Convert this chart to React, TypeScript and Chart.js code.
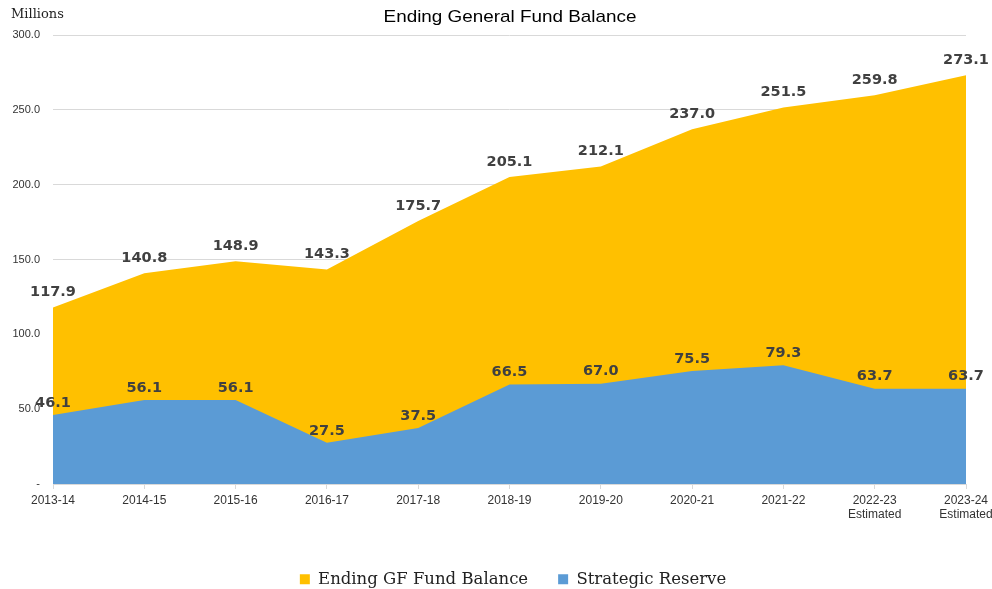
import React, { useEffect, useRef } from "react";
import { Chart, registerables } from "chart.js";

Chart.register(...registerables);

const categories: (string | string[])[] = [
  "2013-14", "2014-15", "2015-16", "2016-17", "2017-18", "2018-19",
  "2019-20", "2020-21", "2021-22", ["2022-23", "Estimated"], ["2023-24", "Estimated"],
];
const endingBalance = [117.9, 140.8, 148.9, 143.3, 175.7, 205.1, 212.1, 237.0, 251.5, 259.8, 273.1];
const strategicReserve = [46.1, 56.1, 56.1, 27.5, 37.5, 66.5, 67.0, 75.5, 79.3, 63.7, 63.7];
const yTicks = [0, 50, 100, 150, 200, 250, 300];

const TITLE = "Ending General Fund Balance";
const UNIT = "Millions";

const decorPlugin = {
  id: "decor",
  afterInit(chart: any) {
    const l = chart.legend;
    if (l) {
      const orig = l.fit;
      l.fit = function () {
        orig.call(this);
        this.height = 48;
      };
    }
  },
  afterLayout(chart: any) {
    const l = chart.legend;
    if (l) {
      l.left += 30;
      l.right += 30;
    }
  },
  afterDraw(chart: any) {
    const ctx = chart.ctx;
    ctx.save();
    ctx.fillStyle = "#000";
    ctx.font = "17px 'Liberation Sans', Arial, sans-serif";
    ctx.textAlign = "center";
    ctx.textBaseline = "middle";
    ctx.translate(510, 17);
    ctx.scale(1.11, 1);
    ctx.fillText(TITLE, 0, 0);
    ctx.restore();
    ctx.save();
    ctx.font = "13px 'DejaVu Serif', serif";
    ctx.textAlign = "left";
    ctx.textBaseline = "middle";
    ctx.fillStyle = "#222";
    ctx.fillText(UNIT, 11, 15);
    ctx.restore();
  },
  afterDatasetsDraw(chart: any) {
    const ctx = chart.ctx;
    ctx.save();
    ctx.font = "bold 14.5px 'DejaVu Sans', Arial, sans-serif";
    ctx.fillStyle = "#404040";
    ctx.textAlign = "center";
    ctx.textBaseline = "middle";
    chart.data.datasets.forEach((ds: any, di: number) => {
      const meta = chart.getDatasetMeta(di);
      meta.data.forEach((pt: any, i: number) => {
        const v = ds.data[i];
        ctx.fillText(v.toFixed(1), pt.x, pt.y - (di === 0 ? 15 : 12));
      });
    });
    ctx.restore();
  },
};

export default function App() {
  const ref = useRef<HTMLCanvasElement>(null);
  useEffect(() => {
    document.body.style.margin = "0";
    const chart = new Chart(ref.current!, {
      type: "line",
      data: {
        labels: categories,
        datasets: [
          {
            label: "Ending GF Fund Balance",
            data: endingBalance,
            backgroundColor: "#FFC000",
            borderColor: "#FFC000",
            borderWidth: 0,
            pointRadius: 0,
            fill: "origin",
            order: 1,
          },
          {
            label: "Strategic Reserve",
            data: strategicReserve,
            backgroundColor: "#5B9BD5",
            borderColor: "#5B9BD5",
            borderWidth: 0,
            pointRadius: 0,
            fill: "origin",
            order: 0,
          },
        ],
      },
      options: {
        animation: false,
        responsive: false,
        layout: { padding: { top: 35, right: 26, left: 0, bottom: 0 } },
        scales: {
          x: {
            offset: false,
            grid: { display: true, drawOnChartArea: false, drawTicks: true, tickLength: 5, color: "#d9d9d9" },
            border: { color: "#d9d9d9" },
            ticks: {
              color: "#333",
              font: { family: "'Liberation Sans', Arial, sans-serif", size: 12 },
              padding: 4,
              maxRotation: 0,
              autoSkip: false,
            },
            afterFit: (s: any) => {
              s.height = 57;
              s.paddingRight = 0;
              s.paddingLeft = 0;
            },
          },
          y: {
            min: 0,
            max: 300,
            afterBuildTicks: (s: any) => { s.ticks = yTicks.map((v) => ({ value: v })); },
            grid: { color: "#d9d9d9", drawTicks: false },
            border: { display: false },
            ticks: {
              color: "#333",
              font: { family: "'Liberation Sans', Arial, sans-serif", size: 11 },
              padding: 13,
              callback: (v: any) => (Number(v) === 0 ? "-" : Number(v).toFixed(1)),
            },
            afterFit: (s: any) => { s.width = 53; },
          },
        },
        plugins: {
          title: { display: false },
          tooltip: { enabled: false },
          legend: {
            position: "bottom",
            labels: {
              boxWidth: 10,
              boxHeight: 10,
              padding: 30,
              color: "#222",
              font: { family: "'DejaVu Serif', serif", size: 16.5 },
              sort: (a: any, b: any) => a.datasetIndex - b.datasetIndex,
            },
          },
        },
      },
      plugins: [decorPlugin],
    } as any);
    return () => chart.destroy();
  }, []);
  return (
    <div style={{ width: 992, height: 589 }}>
      <canvas ref={ref} width={992} height={589} style={{ display: "block" }} />
    </div>
  );
}
